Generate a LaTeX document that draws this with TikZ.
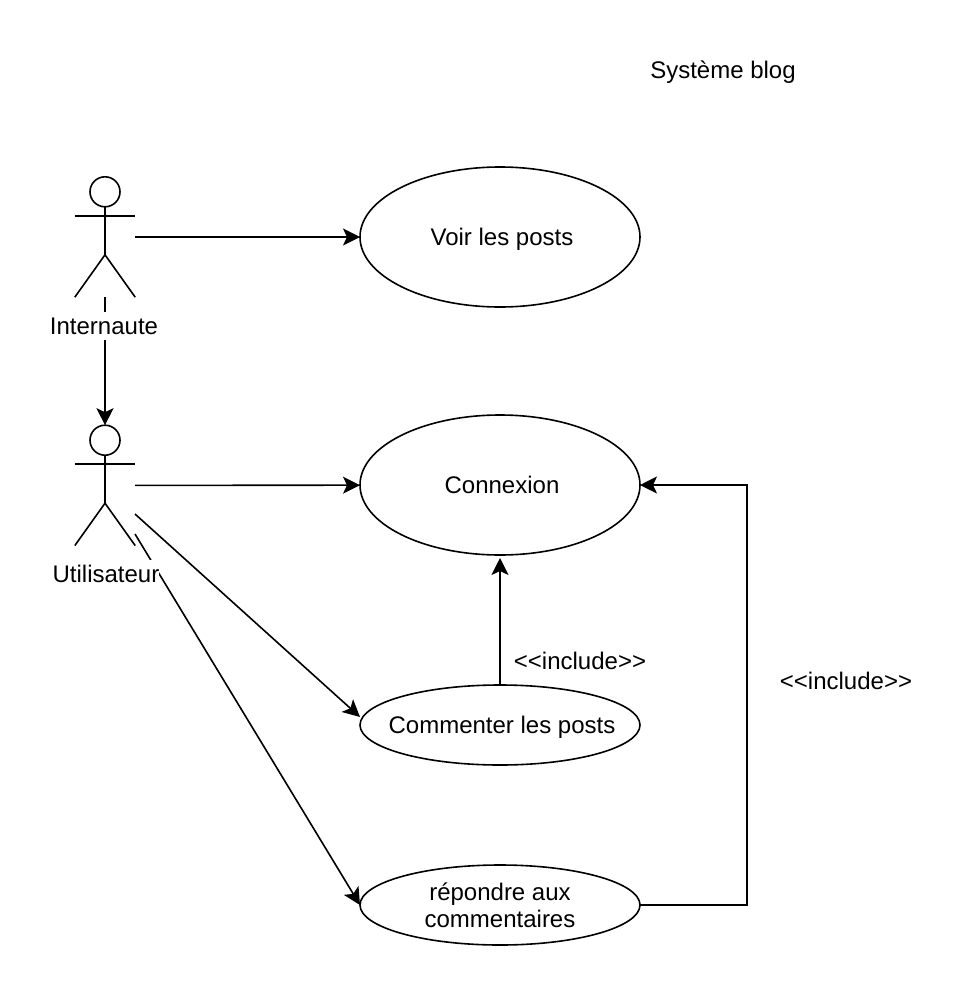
\documentclass[tikz,border=0pt]{standalone}
\usepackage{fontspec}
\setmainfont{Liberation Sans}
\usetikzlibrary{arrows.meta,positioning,shapes.geometric}

\tikzset{
  every node/.style={font=\fontsize{24}{27}\selectfont},
  edge line/.style={line width=1.6pt, -{Stealth[length=17pt,width=17pt,inset=4pt]}},
  usecase/.style={draw, line width=1.6pt, ellipse, inner sep=0pt, outer sep=0pt, minimum width=280pt, align=center},
  one line/.style={text height=22pt, text depth=5pt, execute at begin node={\hspace*{4pt}}},
  actor box/.style={inner sep=0pt, minimum width=60pt, minimum height=120pt},
  actor name/.style={fill=white, inner sep=0pt, minimum height=28pt},
}

\newcommand{\actorman}[1]{
  \draw[line width=1.6pt] (#1.north) ++(0,-15) circle (15);
  \draw[line width=1.6pt] (#1.north) ++(0,-30) -- ++(0,-48) -- (#1.south west);
  \draw[line width=1.6pt] (#1.north) ++(0,-78) -- (#1.south east);
  \draw[line width=1.6pt] (#1.north west) ++(0,-39) -- ++(60,0);
}

\begin{document}
\begin{tikzpicture}[x=1pt,y=1pt]
  \useasboundingbox (0,0) rectangle (978,-996);

  \node (titre) at (723,-72) {Système blog};

  \node[actor box] (internaute) at (105,-237) {};
  \node[actor box] (utilisateur) [below=128pt of internaute] {};
  \actorman{internaute}
  \actorman{utilisateur}

  \node[usecase, one line, minimum height=140pt] (voir) at (500,-237) {Voir les posts};
  \node[usecase, one line, minimum height=140pt] (connexion) at (500,-485) {Connexion};
  \node[usecase, one line, minimum height=80pt] (commenter) at (500,-725) {\makebox[0pt]{Commenter les posts}};
  \node[usecase, minimum height=80pt] (repondre) at (500,-905) {répondre aux\\commentaires};

  \coordinate (depart1) at (135,-514);
  \coordinate (depart2) at (135,-534);
  \coordinate (arrivee1) at (360,-717);
  \coordinate (coude) at (747,-485);

  \draw[edge line] (internaute.east) -- (voir);
  \draw[edge line] (internaute.south) -- (utilisateur.north);
  \draw[edge line] (utilisateur.east) -- (connexion);
  \draw[edge line] (depart1) -- (arrivee1);
  \draw[edge line] (depart2) -- (repondre.west);
  \draw[edge line] (commenter.north) -- ([yshift=-3pt]connexion.south);
  \draw[edge line] (repondre.east) -| (coude) -- (connexion.east);

  \node[actor name] (nom1) at (104,-326) {Internaute};
  \node[actor name] (nom2) at (106,-574) {Utilisateur};
  \node (inc1) at (580,-661) {<{}<include>{}>};
  \node (inc2) at (846,-681) {<{}<include>{}>};
\end{tikzpicture}
\end{document}
